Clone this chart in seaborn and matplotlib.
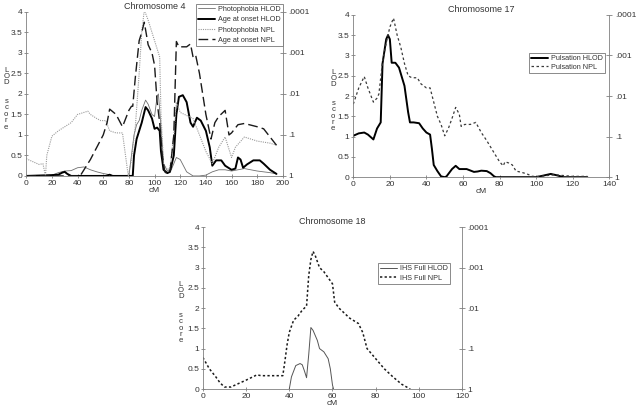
import matplotlib
matplotlib.use("Agg")
import matplotlib.pyplot as plt
import matplotlib.transforms as mtransforms
import pandas as pd
import seaborn as sns

# ---- Chromosome 4 ----
chr4_photo_hlod_cm = [0, 10, 20, 25, 30, 35, 40, 45, 50, 55, 60, 65, 70, 75, 80, 82, 84, 86, 88, 90, 93,
                      95, 98, 100, 102, 103, 105, 107, 110, 113, 115, 117, 120, 125, 130, 135, 140, 145,
                      150, 155, 160, 165, 170, 175, 180, 185, 190, 195]
chr4_photo_hlod = [0, 0, 0.02, 0.08, 0.12, 0.13, 0.2, 0.22, 0.15, 0.1, 0.06, 0.03, 0.0, 0.0, 0.0, 0.5, 1.0,
                   1.25, 1.35, 1.6, 1.85, 1.75, 1.5, 1.45, 1.95, 2.0, 1.2, 0.3, 0.12, 0.15, 0.3, 0.45, 0.4,
                   0.1, 0.0, 0.0, 0.02, 0.1, 0.15, 0.15, 0.12, 0.15, 0.18, 0.15, 0.12, 0.1, 0.08, 0.05]

chr4_age_hlod_cm = [0, 20, 25, 28, 30, 32, 35, 62, 65, 67, 83, 84, 86, 88, 90, 93, 95, 98, 100, 102, 104,
                    105, 107, 110, 112, 115, 117, 119, 122, 125, 128, 130, 133, 136, 140, 143, 145, 148,
                    152, 155, 160, 163, 165, 167, 169, 172, 177, 182, 185, 190, 195]
chr4_age_hlod = [0, 0.02, 0.03, 0.08, 0.1, 0.05, 0, 0, 0.03, 0, 0, 0.5, 0.9, 1.1, 1.3, 1.68, 1.6, 1.4,
                 1.15, 1.18, 1.1, 0.6, 0.15, 0.07, 0.1, 0.5, 1.5, 1.93, 1.97, 1.8, 1.3, 1.2, 1.42, 1.35,
                 1.1, 0.7, 0.25, 0.38, 0.38, 0.25, 0.15, 0.18, 0.45, 0.4, 0.2, 0.28, 0.38, 0.38, 0.3,
                 0.15, 0.05]

chr4_photo_npl_cm = [0, 5, 10, 13, 15, 16, 20, 25, 30, 35, 40, 45, 48, 50, 55, 58, 62, 65, 70, 75, 79.5,
                     82, 85, 88, 90, 92, 95, 100, 103, 104, 105, 107, 110, 112, 115, 117, 120, 130, 140,
                     145, 150, 155, 160, 163, 170, 180, 190, 195]
chr4_photo_npl = [0.42, 0.35, 0.28, 0.3, 0.0, 0.5, 0.97, 1.1, 1.2, 1.3, 1.5, 1.55, 1.58, 1.5, 1.4, 1.35,
                  1.35, 1.1, 1.05, 1.05, 0.0, 0.4, 1.2, 2.5, 3.5, 4.05, 3.8, 3.3, 3.0, 2.9, 1.5, 0.3,
                  0.15, 0.2, 1.0, 1.8, 1.55, 1.4, 0.6, 0.3, 0.7, 0.95, 0.45, 0.7, 0.95, 0.85, 0.8, 0.75]

chr4_age_npl_cm = [0, 42, 45, 50, 55, 60, 63, 65, 70, 75, 80, 82, 83, 85, 88, 90, 92, 95, 98, 100, 102,
                   104, 106, 108, 110, 112, 115, 117, 119, 125, 128, 130, 132, 135, 140, 144, 147, 150,
                   155, 158, 160, 165, 170, 180, 185, 190, 195]
chr4_age_npl = [0, 0, 0.15, 0.4, 0.7, 1.0, 1.3, 1.63, 1.5, 1.2, 1.6, 1.7, 1.7, 2.4, 3.3, 3.5, 3.75, 3.2,
                3.0, 2.7, 1.8, 1.3, 0.5, 0.1, 0.05, 0.1, 1.0, 3.28, 3.15, 3.15, 3.22, 2.9, 2.95, 2.5, 1.5,
                0.9, 1.3, 1.45, 1.6, 1.0, 1.05, 1.25, 1.28, 1.2, 1.15, 0.95, 0.75]

# ---- Chromosome 17 ----
chr17_hlod_cm = [0, 3, 6, 8, 11, 13, 15, 16, 18, 19, 20, 21, 23, 25, 27, 28, 30, 31, 33, 36, 38, 40, 42,
                 43, 44, 46, 48, 50, 51, 54, 56, 58, 62, 66, 68, 70, 73, 75, 77, 78, 100, 105, 108, 111,
                 115, 128]
chr17_hlod = [1.02, 1.08, 1.1, 1.05, 0.93, 1.2, 1.35, 2.8, 3.4, 3.5, 3.4, 2.82, 2.82, 2.7, 2.4, 2.25, 1.6,
              1.35, 1.35, 1.33, 1.2, 1.1, 1.05, 0.7, 0.3, 0.15, 0.02, 0.0, 0.02, 0.2, 0.28, 0.2, 0.2,
              0.13, 0.14, 0.16, 0.15, 0.1, 0.02, 0, 0, 0.05, 0.08, 0.05, 0, 0]

chr17_npl_cm = [0, 3, 6, 8, 11, 13, 14, 16, 18, 20, 22, 24, 26, 28, 30, 32, 35, 37, 40, 42, 44, 46, 48,
                50, 52, 54, 56, 58, 59, 61, 64, 67, 70, 73, 77, 80, 82, 83, 85, 87, 89, 92, 95, 98, 102,
                106, 110, 115, 120, 128]
chr17_npl = [1.8, 2.2, 2.48, 2.2, 1.85, 1.95, 2.05, 2.85, 3.3, 3.7, 3.92, 3.5, 3.2, 2.8, 2.5, 2.45, 2.45,
             2.3, 2.2, 2.2, 1.85, 1.5, 1.3, 1.02, 1.2, 1.45, 1.72, 1.55, 1.25, 1.3, 1.3, 1.35, 1.1, 0.9,
             0.6, 0.38, 0.28, 0.38, 0.35, 0.3, 0.15, 0.12, 0.08, 0.02, 0.02, 0.04, 0.06, 0.04, 0.02, 0.02]

# ---- Chromosome 18 ----
chr18_npl_cm = [0, 3, 6, 8, 10, 13, 15, 20, 25, 27, 30, 35, 37, 38, 39, 40, 42, 44, 46, 48, 49, 50, 51,
                52, 54, 56, 58, 60, 61, 63, 65, 68, 72, 74, 76, 80, 84, 88, 92, 96]
chr18_npl = [0.78, 0.5, 0.3, 0.15, 0.05, 0.05, 0.1, 0.22, 0.35, 0.33, 0.33, 0.33, 0.33, 0.7, 1.1, 1.4,
             1.7, 1.8, 1.95, 2.05, 2.8, 3.2, 3.4, 3.3, 3.0, 2.9, 2.75, 2.6, 2.15, 2.0, 1.9, 1.75, 1.62,
             1.4, 1.0, 0.75, 0.5, 0.3, 0.12, 0.0]

chr18_hlod_cm = [40, 41, 43, 45, 46, 47, 48, 49, 50, 51, 53, 54, 56, 58, 59, 60, 60.5]
chr18_hlod = [0, 0.3, 0.58, 0.63, 0.6, 0.45, 0.28, 0.85, 1.52, 1.45, 1.2, 1.0, 0.92, 0.75, 0.5, 0.1, 0.0]

p_ticks = [0, 1, 2, 3, 4]
p_labels = ['1', '.1', '.01', '.001', '.0001']
ylabel_letters = ['L', 'O', 'D', 's', 'c', 'o', 'r', 'e']
ylabel_pos = [2.58, 2.43, 2.28, 1.82, 1.66, 1.50, 1.35, 1.19]

sns.set_style("white")
plt.rcParams['font.family'] = ['Liberation Sans', 'DejaVu Sans']

AX_COL = '#808080'
TXT_COL = '#333333'
FS = 6


def setup_axes(ax, title, xmax, xstep, lab_off):
    ax.set_xlim(0, xmax)
    ax.set_ylim(0, 4)
    ax.set_xticks(range(0, xmax + 1, xstep))
    ax.set_yticks([0, 0.5, 1, 1.5, 2, 2.5, 3, 3.5, 4])
    ax.set_yticklabels(['0', '0.5', '1', '1.5', '2', '2.5', '3', '3.5', '4'])
    ax.tick_params(axis='both', labelsize=FS, colors=AX_COL, labelcolor=TXT_COL,
                   length=2.5, width=0.6, pad=1.5, direction='inout')
    ax.tick_params(axis='x', bottom=True)
    ax.tick_params(axis='y', left=True)
    for side in ['top', 'right']:
        ax.spines[side].set_visible(False)
    for side in ['left', 'bottom']:
        ax.spines[side].set_color(AX_COL)
        ax.spines[side].set_linewidth(0.6)
    ax.set_xlabel('cM', fontsize=FS, color=TXT_COL, labelpad=0)
    ax.set_ylabel('')
    ax.set_title(title, fontsize=FS + 0.5, color=TXT_COL, pad=2)
    # stacked "LOD score" label, one letter per line
    trans = mtransforms.blended_transform_factory(ax.transAxes, ax.transData)
    trans = trans + mtransforms.ScaledTranslation(lab_off / 100, 0, ax.figure.dpi_scale_trans)
    for ch, yy in zip(ylabel_letters, ylabel_pos):
        ax.text(0, yy, ch, transform=trans, ha='center', va='center',
                fontsize=5.6, color=TXT_COL)

    rax = ax.twinx()
    rax.set_ylim(0, 4)
    rax.set_yticks(p_ticks)
    rax.set_yticklabels(p_labels)
    rax.tick_params(axis='y', labelsize=FS, colors=AX_COL, labelcolor=TXT_COL,
                    length=4, width=0.6, pad=2, direction='inout', right=True)
    for side in ['top', 'left', 'bottom']:
        rax.spines[side].set_visible(False)
    rax.spines['right'].set_color(AX_COL)
    rax.spines['right'].set_linewidth(0.6)
    return rax


def legend(ax, anchor, spacing):
    leg = ax.legend(loc='upper right', bbox_to_anchor=anchor, fontsize=5.2, frameon=True,
                    fancybox=False, handlelength=2.4, handletextpad=0.4, borderpad=0.3,
                    labelspacing=spacing, borderaxespad=0)
    leg.get_frame().set_edgecolor('#555555')
    leg.get_frame().set_linewidth(0.6)
    for t in leg.get_texts():
        t.set_color(TXT_COL)


fig = plt.figure(figsize=(6.4, 4.13), dpi=100)
ax4 = fig.add_axes([0.041, 0.574, 0.401, 0.397])
ax17 = fig.add_axes([0.552, 0.571, 0.400, 0.393])
ax18 = fig.add_axes([0.317, 0.058, 0.405, 0.392])

# Chromosome 4
sns.lineplot(x=chr4_photo_hlod_cm, y=chr4_photo_hlod, ax=ax4, color='#6e6e6e', lw=0.6,
             label='Photophobia HLOD')
sns.lineplot(x=chr4_age_hlod_cm, y=chr4_age_hlod, ax=ax4, color='black', lw=1.4,
             label='Age at onset HLOD')
sns.lineplot(x=chr4_photo_npl_cm, y=chr4_photo_npl, ax=ax4, color='#9a9a9a', lw=0.8,
             linestyle=(0, (1, 1)), label='Photophobia NPL')
sns.lineplot(x=chr4_age_npl_cm, y=chr4_age_npl, ax=ax4, color='#1a1a1a', lw=1.0,
             linestyle=(0, (7, 3)), label='Age at onset NPL')
setup_axes(ax4, 'Chromosome 4', 200, 20, -20)
legend(ax4, (1.0, 1.05), 0.45)

# Chromosome 17
sns.lineplot(x=chr17_hlod_cm, y=chr17_hlod, ax=ax17, color='black', lw=1.4, label='Pulsation HLOD')
sns.lineplot(x=chr17_npl_cm, y=chr17_npl, ax=ax17, color='#3a3a3a', lw=0.9,
             linestyle=(0, (2, 2)), label='Pulsation NPL')
setup_axes(ax17, 'Chromosome 17', 140, 20, -20)
legend(ax17, (0.984, 0.765), 0.2)

# Chromosome 18
sns.lineplot(x=chr18_hlod_cm, y=chr18_hlod, ax=ax18, color='#555555', lw=0.7, label='IHS Full HLOD')
sns.lineplot(x=chr18_npl_cm, y=chr18_npl, ax=ax18, color='#1a1a1a', lw=1.1,
             linestyle=(0, (1.5, 1.5)), label='IHS Full NPL')
setup_axes(ax18, 'Chromosome 18', 120, 20, -22)
legend(ax18, (0.954, 0.778), 0.3)

fig.savefig('out.png', dpi=100)
